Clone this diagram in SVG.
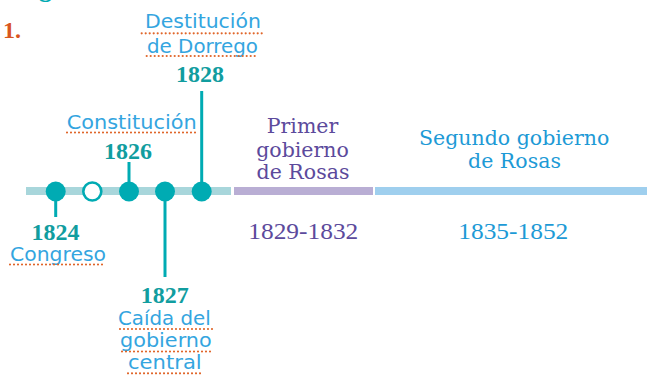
<svg xmlns="http://www.w3.org/2000/svg" width="647" height="375" viewBox="0 0 647 375">
<style>
.hand{font-family:"Comic Sans MS","DejaVu Sans",sans-serif;font-size:20px;fill:#34a5df}
.yr{font-family:"Liberation Serif",serif;font-weight:bold;font-size:24px;fill:#119d9f;text-anchor:middle}
.lbl{font-family:"DejaVu Serif",serif;font-size:20.5px;text-anchor:middle}
.dot{stroke:#e0662a;stroke-width:2.2;stroke-linecap:round;stroke-dasharray:0 4;fill:none}
.stem{stroke:#00abb3;stroke-width:3}
.node{fill:#00abb3}
</style>
<rect width="647" height="375" fill="#ffffff"/>
<text x="39" y="-3" font-family="Liberation Serif,serif" font-weight="bold" font-size="26" fill="#00abb3">g</text>
<text x="3" y="37.5" font-family="Liberation Serif,serif" font-weight="bold" font-size="24" fill="#d9561f">1.</text>

<g id="bars">
<rect x="26" y="187" width="205" height="8" fill="#a8d6db"/>
<rect x="234" y="187" width="139" height="8" fill="#b9aed4"/>
<rect x="375" y="187" width="272" height="8" fill="#9fcfee"/>
</g>

<g id="connectors">
<line class="stem" x1="55.7" y1="200" x2="55.7" y2="217"/>
<line class="stem" x1="129" y1="162" x2="129" y2="184"/>
<line class="stem" x1="201.7" y1="91" x2="201.7" y2="184"/>
<line class="stem" x1="165" y1="200" x2="165" y2="277"/>
</g>

<g id="n1824">
<circle class="node" cx="55.7" cy="191.5" r="10"/>
<text class="yr" x="55.5" y="240">1824</text>
<text class="hand" x="10" y="260.5" textLength="96" lengthAdjust="spacingAndGlyphs">Congreso</text>
<line class="dot" x1="10" y1="264.5" x2="106" y2="264.5"/>
</g>

<g id="n1825">
<circle cx="92.3" cy="191.5" r="9" fill="#ffffff" stroke="#00abb3" stroke-width="2.6"/>
</g>

<g id="n1826">
<circle class="node" cx="129" cy="191.5" r="10"/>
<text class="yr" x="128" y="158.5">1826</text>
<text class="hand" x="66.7" y="129" textLength="130" lengthAdjust="spacingAndGlyphs">Constitución</text>
<line class="dot" x1="67" y1="132.5" x2="199" y2="132.5"/>
</g>

<g id="n1827">
<circle class="node" cx="165" cy="191.5" r="10"/>
<text class="yr" x="164.7" y="302.7">1827</text>
<text class="hand" x="118" y="325" textLength="92.7" lengthAdjust="spacingAndGlyphs">Caída del</text>
<line class="dot" x1="120" y1="329" x2="213" y2="329"/>
<text class="hand" x="120" y="346.5" textLength="91.7" lengthAdjust="spacingAndGlyphs">gobierno</text>
<line class="dot" x1="122" y1="351.5" x2="212" y2="351.5"/>
<text class="hand" x="128" y="369" textLength="73.7" lengthAdjust="spacingAndGlyphs">central</text>
<line class="dot" x1="128" y1="373.3" x2="201" y2="373.3"/>
</g>

<g id="n1828">
<circle class="node" cx="201.7" cy="191.5" r="10"/>
<text class="yr" x="200" y="81.7">1828</text>
<text class="hand" x="145" y="28" textLength="116" lengthAdjust="spacingAndGlyphs">Destitución</text>
<line class="dot" x1="141.7" y1="33.3" x2="265" y2="33.3"/>
<text class="hand" x="147" y="52.5" textLength="111" lengthAdjust="spacingAndGlyphs">de Dorrego</text>
<line class="dot" x1="146.7" y1="56" x2="258" y2="56"/>
</g>

<g id="primer">
<text class="lbl" fill="#5c4a9c" x="302.5" y="133.3">Primer</text>
<text class="lbl" fill="#5c4a9c" x="302.5" y="156.5">gobierno</text>
<text class="lbl" fill="#5c4a9c" x="303" y="179.3">de Rosas</text>
<text x="303.3" y="239.3" font-family="Liberation Serif,serif" font-size="24" fill="#5c4a9c" text-anchor="middle" textLength="110" lengthAdjust="spacingAndGlyphs">1829-1832</text>
</g>

<g id="segundo">
<text class="lbl" fill="#1d9ad6" x="514.2" y="145">Segundo gobierno</text>
<text class="lbl" fill="#1d9ad6" x="514.5" y="168.3">de Rosas</text>
<text x="513.3" y="239.3" font-family="Liberation Serif,serif" font-size="24" fill="#1d9ad6" text-anchor="middle" textLength="110" lengthAdjust="spacingAndGlyphs">1835-1852</text>
</g>
</svg>
